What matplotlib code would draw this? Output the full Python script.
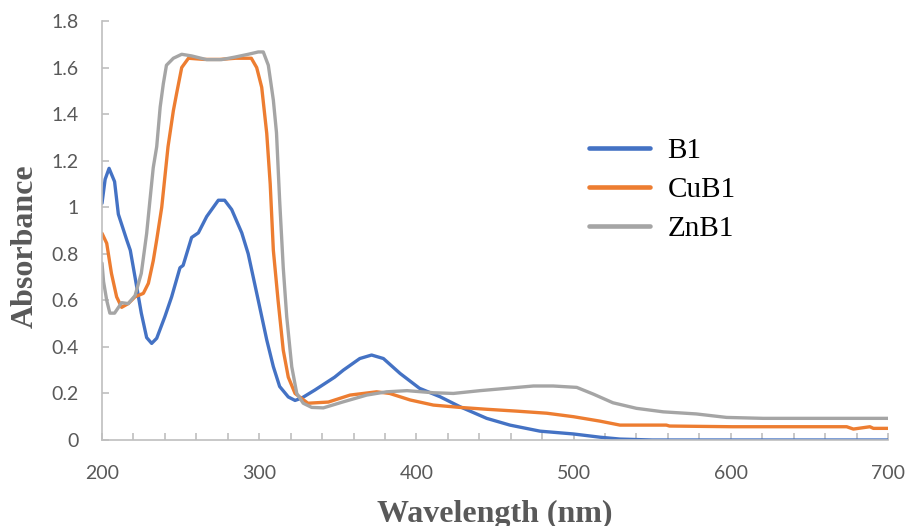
import matplotlib
matplotlib.use("Agg")
import matplotlib.pyplot as plt
from matplotlib.ticker import MultipleLocator

# ---- data ----
b1_wl = [200, 202, 204.5, 208, 210.4, 215.7, 218, 221, 225, 228.4, 231.6, 234.8, 240, 244.3,
         249.6, 251.6, 257, 261.3, 266.6, 274, 278, 282.5, 288.9, 293, 299.4, 304.8, 309, 313,
         318.5, 322.8, 327, 335.5, 348, 353.5, 364, 371.5, 379, 389.6, 402, 415, 427.7, 444.7,
         459.5, 478.6, 499.8, 516.8, 529.5, 550, 600, 650, 700]
b1_abs = [1.017, 1.12, 1.167, 1.11, 0.97, 0.86, 0.815, 0.70, 0.545, 0.44, 0.415, 0.437, 0.53,
          0.615, 0.74, 0.75, 0.87, 0.89, 0.96, 1.03, 1.03, 0.99, 0.89, 0.80, 0.60, 0.43, 0.315,
          0.23, 0.185, 0.17, 0.18, 0.215, 0.27, 0.30, 0.35, 0.365, 0.35, 0.286, 0.222, 0.186,
          0.143, 0.093, 0.064, 0.038, 0.026, 0.012, 0.004, 0.0, 0.0, 0.0, 0.0]

cu_wl = [200, 203, 206, 209.3, 212.5, 216.7, 221, 226.3, 229.5, 232.6, 234.8, 238, 240, 242,
         245.4, 247.5, 250.7, 255, 265, 275, 285, 295, 298.4, 301.6, 304.8, 307, 309, 312,
         315.3, 318.5, 322.8, 331, 344, 357.8, 374.7, 383, 396, 410.8, 427.7, 444.7, 463.8,
         483, 500, 516.8, 529.5, 559, 561, 601, 673.7, 678, 688.5, 690.7, 700]
cu_abs = [0.888, 0.845, 0.716, 0.615, 0.57, 0.586, 0.615, 0.63, 0.673, 0.77, 0.86, 1.0, 1.13,
          1.26, 1.415, 1.49, 1.60, 1.64, 1.635, 1.635, 1.64, 1.64, 1.60, 1.515, 1.317, 1.10,
          0.815, 0.60, 0.386, 0.27, 0.20, 0.158, 0.163, 0.193, 0.207, 0.20, 0.172, 0.15, 0.14,
          0.132, 0.124, 0.115, 0.10, 0.081, 0.064, 0.064, 0.06, 0.057, 0.057, 0.047, 0.057,
          0.05, 0.05]

zn_wl = [200, 201, 203, 205, 208, 212.5, 216.7, 221, 225, 228.4, 230.5, 232.6, 234.8, 237, 239,
         241, 245.4, 250.7, 257, 266.6, 276, 284.6, 293, 299.4, 302.6, 305.8, 309, 311, 313,
         315.3, 317.5, 320.7, 323.9, 328, 333.4, 340.8, 353.5, 368.4, 381, 394, 410.8, 423.5,
         440.5, 457.5, 474.4, 487, 502, 512.6, 525, 540, 557, 578, 597.3, 620.7, 700]
zn_abs = [0.76, 0.68, 0.60, 0.545, 0.545, 0.59, 0.586, 0.62, 0.716, 0.887, 1.03, 1.17, 1.26,
          1.43, 1.53, 1.61, 1.64, 1.657, 1.65, 1.634, 1.634, 1.645, 1.657, 1.667, 1.667, 1.61,
          1.46, 1.32, 1.03, 0.74, 0.53, 0.315, 0.20, 0.158, 0.14, 0.138, 0.164, 0.193, 0.207,
          0.212, 0.203, 0.20, 0.212, 0.222, 0.232, 0.232, 0.226, 0.197, 0.16, 0.136, 0.121,
          0.112, 0.097, 0.093, 0.093]

series_names = ["B1", "CuB1", "ZnB1"]
series_colors = ["#4472C4", "#ED7D31", "#A5A5A5"]

# ---- figure ----
fig = plt.figure(figsize=(9.08, 5.26), dpi=100)
ax = fig.add_axes([102/908, 86/526, 786/908, 419/526])

for wl, ab, name, col in zip([b1_wl, cu_wl, zn_wl], [b1_abs, cu_abs, zn_abs],
                             series_names, series_colors):
    ax.plot(wl, ab, color=col, lw=2.4, label=name, solid_capstyle="round")

ax.set_xlim(200, 700)
ax.set_ylim(0, 1.8)
ax.xaxis.set_major_locator(MultipleLocator(100))
ax.xaxis.set_minor_locator(MultipleLocator(20))
ax.yaxis.set_major_locator(MultipleLocator(0.2))

def yfmt(v, pos):
    s = f"{v:.1f}"
    if s.endswith(".0"):
        s = s[:-2]
    return s
ax.yaxis.set_major_formatter(plt.FuncFormatter(yfmt))

for side in ["top", "right"]:
    ax.spines[side].set_visible(False)
for side in ["left", "bottom"]:
    ax.spines[side].set_color("#BFBFBF")
    ax.spines[side].set_linewidth(1.2)

tickfont = "Lato"
ax.tick_params(axis="both", which="both", direction="in", color="#BFBFBF", width=1.2,
               labelcolor="#595959", labelsize=14)
ax.tick_params(axis="x", which="major", length=5, pad=18)
ax.tick_params(axis="x", which="minor", length=5)
ax.tick_params(axis="y", which="major", length=5, pad=17)
for lbl in ax.get_xticklabels() + ax.get_yticklabels():
    lbl.set_fontfamily(tickfont)

fig.text(495/908, 4/526, "Wavelength (nm)", ha="center", va="baseline",
         family="Liberation Serif", weight="bold", fontsize=23, color="#595959")
fig.text(25/908, 1 - 246/526, "Absorbance", ha="center", va="center", rotation=90,
         family="Liberation Serif", weight="bold", fontsize=23, color="#595959")

leg = ax.legend(loc="upper left", bbox_to_anchor=(574/908, 1 - 123/526),
                bbox_transform=fig.transFigure, frameon=False,
                prop={"family": "Liberation Serif", "size": 21},
                handlelength=2.1, handletextpad=0.6, labelspacing=0.44, borderpad=0)
for h in leg.get_lines():
    h.set_linewidth(3.3)

fig.savefig("out.png", dpi=100)
